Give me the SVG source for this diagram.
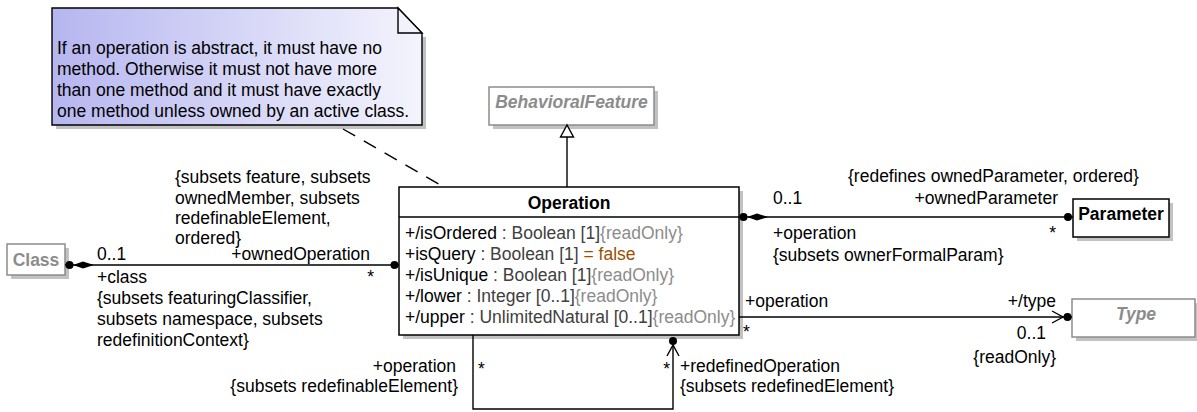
<svg xmlns="http://www.w3.org/2000/svg" width="1197" height="412" viewBox="0 0 1197 412">
<defs>
<linearGradient id="noteGrad" x1="0" y1="0" x2="1" y2="0">
<stop offset="0" stop-color="#b6b6f0"/>
<stop offset="1" stop-color="#f4f4fd"/>
</linearGradient>
</defs>
<style>
text{font-family:"Liberation Sans",Arial,sans-serif;font-size:17.5px;fill:#000}
.shadow{fill:#c2c2c2;stroke:none}
.box{fill:#fff;stroke:#000;stroke-width:1.5}
.gbox{fill:#fff;stroke:#8c8c8c;stroke-width:1.5}
.title{font-weight:bold;text-anchor:middle}
.gtitle{font-weight:bold;font-style:italic;fill:#8c8c8c;text-anchor:middle}
.gtitle2{font-weight:bold;fill:#8c8c8c;text-anchor:middle}
.ln{fill:none;stroke:#000;stroke-width:1.4}
.dash{fill:none;stroke:#000;stroke-width:1.4;stroke-dasharray:14 10}
.dot{fill:#000}
.end{text-anchor:end}
.t{fill:#404040}
.ro{fill:#8c8c8c}
.dv{fill:#9a5000}
</style>

<g id="note">
<polygon class="shadow" points="56,12 426,37 426,129 56,129"/>
<polygon points="52,8 398,8 422,33 422,125 52,125" fill="url(#noteGrad)" stroke="#000" stroke-width="1.4"/>
<polygon points="398,8 398,33 422,33" fill="#f2f2fc" stroke="#000" stroke-width="1.4"/>
<text x="57" y="54">If an operation is abstract, it must have no</text>
<text x="57" y="75">method. Otherwise it must not have more</text>
<text x="57" y="96">than one method and it must have exactly</text>
<text x="57" y="117">one method unless owned by an active class.</text>
</g>

<g id="BehavioralFeature">
<rect class="shadow" x="493" y="91" width="165" height="38"/>
<rect class="gbox" x="489" y="87" width="165" height="38"/>
<text class="gtitle" x="571.5" y="108">BehavioralFeature</text>
</g>

<g id="Operation">
<rect class="shadow" x="403" y="191" width="340" height="148"/>
<rect class="box" x="399" y="187" width="340" height="148"/>
<line class="ln" x1="399" y1="217" x2="739" y2="217"/>
<text class="title" x="569" y="209">Operation</text>
<text x="405" y="238.5">+/isOrdered<tspan class="t"> : Boolean [1]</tspan><tspan class="ro">{readOnly}</tspan></text>
<text x="405" y="259.5">+isQuery<tspan class="t"> : Boolean [1] </tspan><tspan class="dv">= false</tspan></text>
<text x="405" y="280.5">+/isUnique<tspan class="t"> : Boolean [1]</tspan><tspan class="ro">{readOnly}</tspan></text>
<text x="405" y="301.5">+/lower<tspan class="t"> : Integer [0..1]</tspan><tspan class="ro">{readOnly}</tspan></text>
<text x="405" y="322.5">+/upper<tspan class="t"> : UnlimitedNatural [0..1]</tspan><tspan class="ro">{readOnly}</tspan></text>
</g>

<g id="Class">
<rect class="shadow" x="11" y="248" width="58" height="31"/>
<rect class="gbox" x="7" y="244" width="58" height="31"/>
<text class="gtitle2" x="36" y="266">Class</text>
</g>

<g id="Parameter">
<rect class="shadow" x="1077" y="203" width="96" height="38"/>
<rect class="box" x="1073" y="199" width="96" height="38"/>
<text class="title" x="1121" y="220">Parameter</text>
</g>

<g id="Type">
<rect class="shadow" x="1076" y="303" width="123" height="38"/>
<rect class="gbox" x="1072" y="299" width="123" height="38"/>
<text class="gtitle" x="1136" y="320">Type</text>
</g>

<g id="connectors">
<!-- note anchor -->
<line class="dash" x1="343" y1="129" x2="444" y2="187"/>
<!-- generalization -->
<line class="ln" x1="567" y1="187" x2="567" y2="137"/>
<polygon points="567,125 560.5,137 573.5,137" fill="#fff" stroke="#000" stroke-width="1.4"/>
<!-- Class - Operation -->
<line class="ln" x1="65" y1="265" x2="399" y2="265"/>
<circle class="dot" cx="69.5" cy="265" r="4"/>
<polygon class="dot" points="73,265 83,261.5 94,265 83,268.5"/>
<circle class="dot" cx="394.5" cy="265" r="4"/>
<!-- Operation - Parameter -->
<line class="ln" x1="739" y1="217" x2="1073" y2="217"/>
<circle class="dot" cx="743.5" cy="217" r="4"/>
<polygon class="dot" points="747,217 757,213.5 768,217 757,220.5"/>
<circle class="dot" cx="1068" cy="217" r="4"/>
<!-- Operation - Type -->
<line class="ln" x1="739" y1="317" x2="1072" y2="317"/>
<polyline class="ln" points="1052,311 1063,317 1052,323"/>
<circle class="dot" cx="1067.5" cy="317" r="4"/>
<!-- self association -->
<polyline class="ln" points="473,335 473,409 673,409 673,345"/>
<polyline class="ln" points="667,356 673,345 679,356"/>
<circle class="dot" cx="673" cy="341" r="4"/>
</g>

<g id="labels">
<text x="175" y="183">{subsets feature, subsets</text>
<text x="175" y="204">ownedMember, subsets</text>
<text x="175" y="224">redefinableElement,</text>
<text x="175" y="244">ordered}</text>
<text x="97" y="260">0..1</text>
<text class="end" x="370" y="260">+ownedOperation</text>
<text class="end" x="374" y="283">*</text>
<text x="97" y="283">+class</text>
<text x="97" y="304">{subsets featuringClassifier,</text>
<text x="97" y="325">subsets namespace, subsets</text>
<text x="97" y="346">redefinitionContext}</text>

<text x="848" y="182">{redefines ownedParameter, ordered}</text>
<text x="773" y="204">0..1</text>
<text class="end" x="1058" y="204">+ownedParameter</text>
<text class="end" x="1056" y="239">*</text>
<text x="773" y="239">+operation</text>
<text x="773" y="261">{subsets ownerFormalParam}</text>

<text x="745" y="307">+operation</text>
<text x="743" y="338">*</text>
<text class="end" x="1056" y="307">+/type</text>
<text class="end" x="1046" y="339">0..1</text>
<text class="end" x="1056" y="363">{readOnly}</text>

<text class="end" x="456" y="372">+operation</text>
<text class="end" x="458" y="392">{subsets redefinableElement}</text>
<text x="478" y="375">*</text>
<text class="end" x="670" y="375">*</text>
<text x="680" y="372">+redefinedOperation</text>
<text x="680" y="392">{subsets redefinedElement}</text>
</g>
</svg>
